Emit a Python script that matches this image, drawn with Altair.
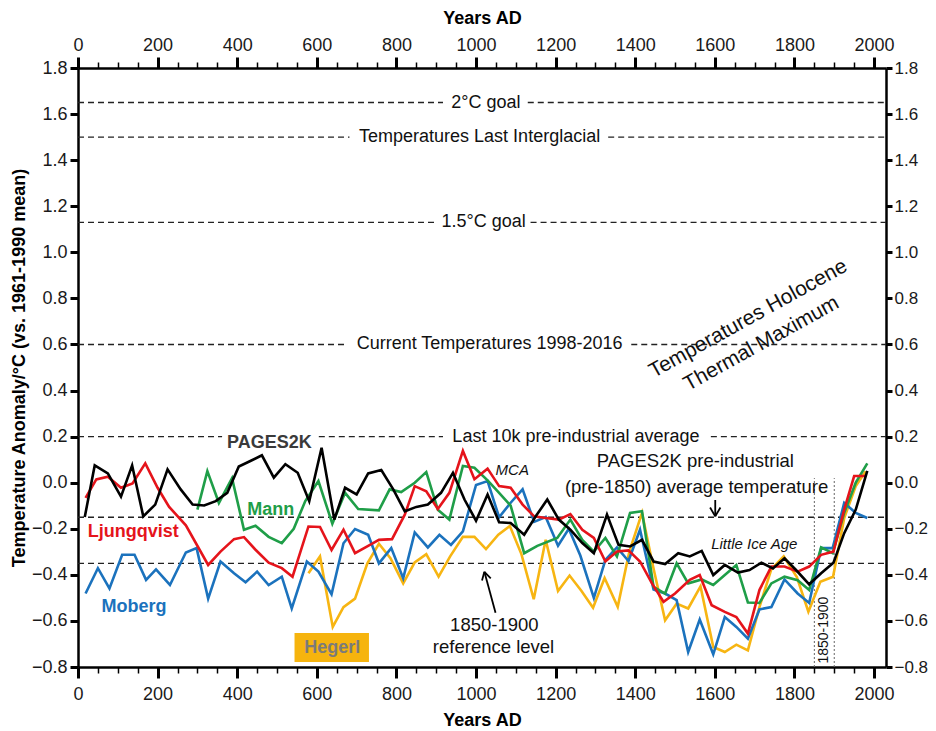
import altair as alt
import pandas as pd

FONT = "Liberation Sans"

# ---------------- series data ----------------
pages_years = [17, 42, 75, 108, 136, 164, 194, 225, 258, 288, 317, 346, 375, 404, 433, 462, 492, 521, 552, 581,
               612, 644, 671, 700, 729, 762, 792, 821, 850, 879, 912, 942, 971, 1000, 1029, 1058, 1087, 1121, 1150,
               1179, 1208, 1237, 1267, 1296, 1329, 1358, 1387, 1417, 1446, 1475, 1508, 1537, 1567, 1596, 1625, 1658,
               1687, 1717, 1746, 1775, 1804, 1837, 1867, 1898, 1925, 1954, 1983]
pages_vals = [-0.149, 0.075, 0.040, -0.061, 0.075, -0.146, -0.095, 0.058, -0.029, -0.095, -0.099, -0.080, -0.044,
              0.070, 0.094, 0.119, 0.022, 0.080, 0.043, -0.080, 0.152, -0.160, -0.022, -0.051, 0.040, 0.055, -0.029,
              -0.124, -0.105, -0.095, -0.044, 0.043, -0.073, -0.165, -0.051, -0.172, -0.175, -0.226, -0.146, -0.073,
              -0.160, -0.204, -0.262, -0.306, -0.138, -0.270, -0.277, -0.248, -0.342, -0.353, -0.306, -0.320, -0.296,
              -0.401, -0.357, -0.390, -0.379, -0.347, -0.372, -0.328, -0.379, -0.441, -0.393, -0.347, -0.219, -0.117,
              0.051]

ljung_years = [19, 46, 75, 108, 137, 169, 200, 229, 271, 327, 358, 392, 417, 446, 479, 512, 539, 579, 608, 637, 667,
               696, 729, 756, 789, 821, 846, 875, 904, 933, 967, 996, 1029, 1058, 1087, 1117, 1146, 1175, 1208, 1237,
               1267, 1296, 1325, 1354, 1383, 1412, 1442, 1471, 1500, 1537, 1562, 1592, 1625, 1654, 1683, 1712, 1742,
               1775, 1808, 1837, 1867, 1898, 1925, 1950, 1979]
ljung_vals = [-0.066, 0.014, 0.026, -0.022, -0.003, 0.084, -0.022, -0.105, -0.185, -0.357, -0.299, -0.245, -0.236,
              -0.291, -0.347, -0.371, -0.408, -0.190, -0.192, -0.292, -0.204, -0.306, -0.274, -0.248, -0.245, -0.139,
              -0.015, -0.037, -0.114, -0.044, 0.138, 0.015, 0.061, -0.015, -0.022, -0.095, -0.146, -0.153, -0.160,
              -0.136, -0.204, -0.240, -0.342, -0.299, -0.294, -0.342, -0.437, -0.517, -0.481, -0.422, -0.401, -0.532,
              -0.561, -0.583, -0.655, -0.466, -0.364, -0.364, -0.386, -0.364, -0.313, -0.299, -0.117, 0.029, 0.029]

mann_years = [300, 325, 354, 387, 417, 446, 479, 512, 542, 571, 604, 639, 671, 704, 756, 783, 812, 846, 875, 904,
              933, 967, 996, 1029, 1054, 1087, 1121, 1154, 1204, 1237, 1267, 1296, 1325, 1354, 1387, 1417, 1446,
              1475, 1504, 1533, 1567, 1596, 1625, 1654, 1683, 1712, 1742, 1775, 1808, 1837, 1867, 1896, 1925, 1954,
              1983]
mann_vals = [-0.117, 0.050, -0.088, 0.020, -0.204, -0.187, -0.235, -0.262, -0.200, -0.080, 0.007, -0.178, -0.044,
             -0.114, -0.120, -0.029, -0.041, 0.000, 0.046, -0.117, -0.160, 0.073, 0.065, 0.010, -0.037, -0.100,
             -0.306, -0.274, -0.240, -0.160, -0.248, -0.299, -0.240, -0.320, -0.131, -0.124, -0.452, -0.481, -0.350,
             -0.437, -0.420, -0.444, -0.401, -0.357, -0.520, -0.522, -0.437, -0.408, -0.423, -0.466, -0.281, -0.306,
             -0.131, 0.000, 0.084]

moberg_years = [19, 50, 79, 111, 142, 171, 196, 231, 271, 298, 327, 358, 392, 421, 450, 479, 512, 537, 575, 604, 637,
                667, 696, 729, 756, 787, 817, 846, 879, 908, 937, 967, 1000, 1029, 1058, 1087, 1117, 1146, 1175, 1206,
                1233, 1262, 1296, 1325, 1354, 1383, 1412, 1446, 1475, 1504, 1533, 1562, 1596, 1625, 1654, 1683, 1712,
                1742, 1775, 1808, 1837, 1867, 1896, 1925, 1954, 1983]
moberg_vals = [-0.481, -0.371, -0.459, -0.313, -0.313, -0.422, -0.376, -0.444, -0.303, -0.284, -0.503, -0.342,
               -0.393, -0.432, -0.386, -0.444, -0.408, -0.546, -0.342, -0.386, -0.484, -0.263, -0.201, -0.226, -0.350,
               -0.284, -0.415, -0.216, -0.281, -0.226, -0.270, -0.211, -0.010, 0.007, -0.150, -0.087, -0.029, -0.170,
               -0.149, -0.274, -0.200, -0.316, -0.500, -0.335, -0.281, -0.340, -0.204, -0.464, -0.481, -0.510, -0.735,
               -0.594, -0.745, -0.583, -0.626, -0.677, -0.550, -0.540, -0.420, -0.481, -0.522, -0.284, -0.284, -0.088,
               -0.131, -0.153]

hegerl_years = [579, 608, 640, 667, 696, 727, 756, 785, 817, 846, 875, 906, 935, 967, 996, 1025, 1056, 1085, 1114,
                1145, 1175, 1206, 1235, 1265, 1294, 1323, 1356, 1385, 1417, 1444, 1475, 1504, 1533, 1564, 1596, 1625,
                1654, 1683, 1712, 1742, 1773, 1806, 1835, 1865, 1897, 1925, 1954, 1979]
hegerl_vals = [-0.393, -0.320, -0.626, -0.540, -0.503, -0.350, -0.265, -0.328, -0.437, -0.346, -0.310, -0.408, -0.320,
               -0.235, -0.235, -0.288, -0.226, -0.188, -0.310, -0.506, -0.248, -0.470, -0.403, -0.470, -0.543, -0.414,
               -0.539, -0.300, -0.131, -0.357, -0.597, -0.525, -0.546, -0.450, -0.713, -0.735, -0.703, -0.728, -0.540,
               -0.375, -0.320, -0.410, -0.560, -0.430, -0.408, -0.153, -0.015, 0.050]

# ---------------- reference lines (dashed, with gaps for their labels) ----------------
X_MAX = 2030
ref_seg_start = [0, 1130, 0, 1332, 0, 1137, 0, 1390, 0, 605, 1590, 0, 0]
ref_seg_end = [917, X_MAX, 682, X_MAX, 895, X_MAX, 675, X_MAX, 362, 917, X_MAX, X_MAX, X_MAX]
ref_seg_value = [1.65, 1.65, 1.5, 1.5, 1.13, 1.13, 0.6, 0.6, 0.2, 0.2, 0.2, -0.15, -0.35]

ref_label_text = ["2°C goal", "Temperatures Last Interglacial", "1.5°C goal",
                  "Current Temperatures 1998-2016", "Last 10k pre-industrial average"]
ref_label_year = [1025, 1009, 1019, 1034, 1251]
ref_label_value = [1.65, 1.5, 1.13, 0.6, 0.2]

period_years = [1850, 1900]
period_top = 0.02

# ---------------- annotations ----------------
series_label_text = ["PAGES2K", "Mann", "Ljungqvist", "Moberg"]
series_label_year = [481, 484, 139, 141]
series_label_value = [0.173, -0.118, -0.212, -0.539]
series_label_color = ["#3a3a3a", "#1f9e48", "#e5141b", "#1b72bd"]

hegerl_box = {"x": 544, "x2": 731, "y": -0.652, "y2": -0.778}
hegerl_label = {"year": 639, "value": -0.716}

italic_text = ["MCA", "Little Ice Age"]
italic_year = [1091, 1699]
italic_value = [0.056, -0.266]

note_text = ["PAGES2K pre-industrial", "(pre-1850) average temperature", "1850-1900", "reference level"]
note_year = [1551, 1554, 1046, 1044]
note_value = [0.092, -0.018, -0.617, -0.713]

holo_text = ["Temperatures Holocene", "Thermal Maximum"]
holo_year = [1684, 1717]
holo_value = [0.711, 0.603]

arrow_x = [1049, 1601, 1021, 1021, 1601, 1601]
arrow_y = [-0.565, -0.075, -0.387, -0.387, -0.146, -0.146]
arrow_x2 = [1021, 1601, 1015, 1037, 1588, 1614]
arrow_y2 = [-0.387, -0.146, -0.425, -0.415, -0.108, -0.108]

# ---------------- scales / axes ----------------
X_DOMAIN = [0, X_MAX]
Y_DOMAIN = [-0.8, 1.8]
xs = alt.Scale(domain=X_DOMAIN, nice=False, zero=False)
ys = alt.Scale(domain=Y_DOMAIN, nice=False, zero=False)

x_ticks = list(range(0, 2001, 50))
y_ticks = [round(-0.8 + 0.2 * i, 1) for i in range(14)]
MAJOR = "datum.value % 200 === 0"


def x_axis(orient, label_pad, title_pad):
    return alt.Axis(
        orient=orient, values=x_ticks, format="d",
        labelExpr=f"{MAJOR} ? datum.label : ''",
        tickSize={"condition": {"test": MAJOR, "value": 11}, "value": 6},
        tickWidth={"condition": {"test": MAJOR, "value": 3}, "value": 1.5},
        tickColor="#000", domainColor="#000", domainWidth=2.5,
        labelFont=FONT, labelFontSize=18, labelColor="#1a1a1a", labelPadding=label_pad,
        labelFlush=False, labelOverlap=False, grid=False,
        title="Years AD", titleFont=FONT, titleFontSize=18, titleFontWeight="bold",
        titleColor="#000", titlePadding=title_pad,
    )


def y_axis(orient, title, tick, pad, size):
    kw = dict(
        orient=orient, values=y_ticks, format=".1f",
        tickSize=tick, tickWidth=3, tickColor="#000", domainColor="#000", domainWidth=2.5,
        labelFont=FONT, labelFontSize=size, labelColor="#1a1a1a", labelPadding=pad,
        labelFlush=False, labelOverlap=False, grid=False,
    )
    if title:
        kw.update(title=title, titleFont=FONT, titleFontSize=18, titleFontWeight="bold",
                  titleColor="#000", titlePadding=3)
    else:
        kw.update(title=None)
    return alt.Axis(**kw)


def line_layer(years, vals, color, xaxis=None, yaxis=None):
    df = pd.DataFrame({"year": years, "value": vals})
    return alt.Chart(df).mark_line(color=color, strokeWidth=2.6).encode(
        x=alt.X("year:Q", scale=xs, axis=xaxis),
        y=alt.Y("value:Q", scale=ys, axis=yaxis),
        order="year:Q",
    )


def text_layer(df, **mark):
    base = dict(font=FONT, align="center", baseline="middle")
    base.update(mark)
    return alt.Chart(df).mark_text(**base).encode(
        x=alt.X("year:Q", scale=xs, axis=None),
        y=alt.Y("value:Q", scale=ys, axis=None),
        text="text:N",
    )


ref_rules = alt.Chart(pd.DataFrame({"x": ref_seg_start, "x2": ref_seg_end, "value": ref_seg_value})).mark_rule(
    color="#222", strokeWidth=1.4, strokeDash=[6, 4]
).encode(
    x=alt.X("x:Q", scale=xs, axis=None), x2="x2:Q",
    y=alt.Y("value:Q", scale=ys, axis=None),
)

period_df = pd.DataFrame({"year": period_years, "bottom": [-0.8] * 2, "top": [period_top] * 2})
period_rules = alt.Chart(period_df).mark_rule(color="#666", strokeWidth=1, strokeDash=[2, 2]).encode(
    x=alt.X("year:Q", scale=xs, axis=None),
    y=alt.Y("bottom:Q", scale=ys, axis=None), y2="top:Q",
)
period_text = text_layer(pd.DataFrame({"text": ["1850-1900"], "year": [1875], "value": [-0.64]}),
                         fontSize=14, angle=270, color="#111")

hegerl_rect = alt.Chart(pd.DataFrame([hegerl_box])).mark_rect(color="#f6b40e").encode(
    x=alt.X("x:Q", scale=xs, axis=None), x2="x2:Q",
    y=alt.Y("y:Q", scale=ys, axis=None), y2="y2:Q",
)
hegerl_text = text_layer(pd.DataFrame({"text": ["Hegerl"], "year": [hegerl_label["year"]],
                                       "value": [hegerl_label["value"]]}),
                         fontSize=18, fontWeight="bold", color="#7b7b7b")

lines = [
    line_layer(hegerl_years, hegerl_vals, "#f7b512", x_axis("bottom", 7, 8),
               y_axis("left", "Temperature Anomaly/°C (vs. 1961-1990 mean)", 8, 3, 18)),
    line_layer(moberg_years, moberg_vals, "#1b72bd"),
    line_layer(mann_years, mann_vals, "#1f9e48"),
    line_layer(ljung_years, ljung_vals, "#e5141b"),
    line_layer(pages_years, pages_vals, "#000000", x_axis("top", 3, 9), y_axis("right", None, 6, 2, 17)),
]

ref_texts = text_layer(pd.DataFrame({"text": ref_label_text, "year": ref_label_year, "value": ref_label_value}),
                       fontSize=18, color="#111")

series_texts = alt.Chart(pd.DataFrame({"text": series_label_text, "year": series_label_year,
                                       "value": series_label_value, "c": series_label_color})).mark_text(
    font=FONT, fontSize=18, fontWeight="bold", align="center", baseline="middle"
).encode(
    x=alt.X("year:Q", scale=xs, axis=None),
    y=alt.Y("value:Q", scale=ys, axis=None),
    text="text:N",
    color=alt.Color("c:N", scale=None),
)

italic_texts = text_layer(pd.DataFrame({"text": italic_text, "year": italic_year, "value": italic_value}),
                          fontSize=15, fontStyle="italic", color="#111")
note_texts = text_layer(pd.DataFrame({"text": note_text, "year": note_year, "value": note_value}),
                        fontSize=18.5, color="#111")
holo_texts = text_layer(pd.DataFrame({"text": holo_text, "year": holo_year, "value": holo_value}),
                        fontSize=21, angle=331, color="#111")

arrows = alt.Chart(pd.DataFrame({"x": arrow_x, "y": arrow_y, "x2": arrow_x2, "y2": arrow_y2})).mark_rule(
    color="#000", strokeWidth=1.8
).encode(
    x=alt.X("x:Q", scale=xs, axis=None), x2="x2:Q",
    y=alt.Y("y:Q", scale=ys, axis=None), y2="y2:Q",
)

chart = alt.layer(
    ref_rules, period_rules, hegerl_rect, *lines,
    ref_texts, series_texts, hegerl_text, italic_texts, note_texts, holo_texts, period_text, arrows,
).resolve_axis(x="independent", y="independent").properties(
    width=808, height=599,
    autosize=alt.AutoSizeParams(type="none"),
    padding={"left": 70, "top": 60, "right": 42, "bottom": 62},
    background="white",
).configure_view(stroke=None)

chart.save("out.html", embed_options={"renderer": "svg", "actions": False})
